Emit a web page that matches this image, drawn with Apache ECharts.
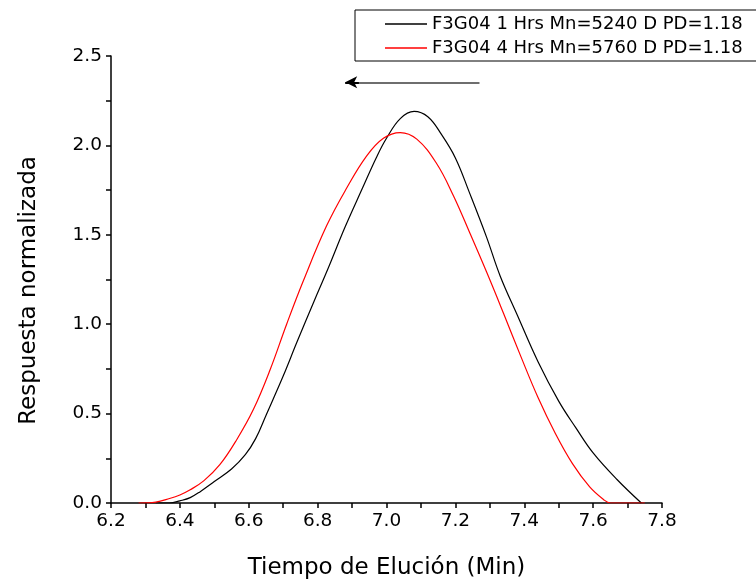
<!DOCTYPE html>
<html><head><meta charset="utf-8">
<script src="https://cdn.jsdelivr.net/npm/echarts@6/dist/echarts.min.js"></script>
<style>html,body{margin:0;padding:0;background:#fff}#c{width:756px;height:581px}</style>
</head><body><div id="c"></div>
<script>
const seriesNames = ['F3G04 1 Hrs Mn=5240 D PD=1.18', 'F3G04 4 Hrs Mn=5760 D PD=1.18'];
const xTicks = [6.2, 6.4, 6.6, 6.8, 7.0, 7.2, 7.4, 7.6, 7.8];
const yTicks = [0.0, 0.5, 1.0, 1.5, 2.0, 2.5];
const blackX = [6.33, 6.37, 6.40, 6.43, 6.46, 6.50, 6.55, 6.59, 6.62, 6.65, 6.70, 6.74, 6.79, 6.83, 6.88, 6.93, 6.97, 7.00, 7.04, 7.08, 7.12, 7.16, 7.20, 7.24, 7.29, 7.33, 7.38, 7.44, 7.50, 7.55, 7.60, 7.67, 7.74];
const blackY = [0, 0, 0.012, 0.03, 0.065, 0.12, 0.19, 0.27, 0.36, 0.49, 0.71, 0.90, 1.13, 1.31, 1.545, 1.76, 1.93, 2.04, 2.15, 2.19, 2.16, 2.06, 1.93, 1.74, 1.49, 1.27, 1.05, 0.79, 0.57, 0.42, 0.28, 0.13, 0];
const redX = [6.28, 6.33, 6.37, 6.40, 6.43, 6.47, 6.516, 6.565, 6.613, 6.662, 6.71, 6.758, 6.826, 6.884, 6.942, 6.991, 7.04, 7.088, 7.145, 7.194, 7.242, 7.291, 7.34, 7.39, 7.44, 7.49, 7.54, 7.59, 7.63, 7.65, 7.75];
const redY = [0, 0.005, 0.025, 0.045, 0.074, 0.125, 0.214, 0.354, 0.521, 0.745, 1.0, 1.24, 1.55, 1.76, 1.94, 2.04, 2.072, 2.035, 1.90, 1.72, 1.51, 1.29, 1.06, 0.82, 0.59, 0.39, 0.22, 0.09, 0.02, 0, 0];
const arrowFrom = [7.27, 2.353];
const arrowMid = [6.92, 2.353];
const arrowTo = [6.88, 2.353];

const pair = (xs, ys) => xs.map((x, i) => [x, ys[i]]);
const FONT = 'DejaVu Sans';
const chart = echarts.init(document.getElementById('c'), null, {renderer: 'canvas'});
chart.setOption({
  animation: false,
  backgroundColor: '#fff',
  textStyle: {fontFamily: FONT, color: '#000'},
  grid: {left: 111, right: 94, top: 56, bottom: 78, containLabel: false, outerBoundsMode: 'none'},
  legend: {
    left: 355, top: 10, orient: 'vertical',
    padding: [5, 70, 4, 30], itemGap: 6,
    itemWidth: 42, itemHeight: 1.5, icon: 'rect',
    borderColor: '#000', borderWidth: 1, borderRadius: 0,
    textStyle: {fontFamily: FONT, fontSize: 18, color: '#000', lineHeight: 18},
    data: seriesNames
  },
  xAxis: {
    type: 'value', min: xTicks[0], max: xTicks[xTicks.length - 1], interval: 0.2,
    name: 'Tiempo de Elución (Min)', nameLocation: 'middle', nameGap: 54,
    nameTextStyle: {fontFamily: FONT, fontSize: 23, color: '#000'},
    axisLine: {show: true, lineStyle: {color: '#000', width: 1.5}},
    axisTick: {show: true, inside: false, length: 5, lineStyle: {color: '#000', width: 1.5}},
    minorTick: {show: true, splitNumber: 2, length: 5, lineStyle: {color: '#000', width: 1.5}},
    axisLabel: {fontFamily: FONT, fontSize: 18.5, color: '#000', margin: 9, formatter: v => v.toFixed(1)},
    splitLine: {show: false}
  },
  yAxis: {
    type: 'value', min: yTicks[0], max: yTicks[yTicks.length - 1], interval: 0.5,
    name: 'Respuesta normalizada', nameLocation: 'middle', nameGap: 70,
    nameTextStyle: {fontFamily: FONT, fontSize: 23, color: '#000', padding: [0, 22, 0, 0]},
    axisLine: {show: true, lineStyle: {color: '#000', width: 1.5}},
    axisTick: {show: true, inside: false, length: 5, lineStyle: {color: '#000', width: 1.5}},
    minorTick: {show: true, splitNumber: 2, length: 5, lineStyle: {color: '#000', width: 1.5}},
    axisLabel: {fontFamily: FONT, fontSize: 18.5, color: '#000', margin: 9, formatter: v => v.toFixed(1)},
    splitLine: {show: false}
  },
  series: [
    {
      name: seriesNames[0], type: 'line', data: pair(blackX, blackY),
      smooth: 0.4, symbol: 'none', lineStyle: {color: '#000', width: 1.2}, itemStyle: {color: '#000'},
      markLine: {
        silent: true, symbol: ['none', 'none'],
        label: {show: false},
        lineStyle: {color: '#6e6e6e', width: 2, type: 'solid'},
        data: [[{coord: arrowFrom}, {coord: arrowMid}]]
      }
    },
    {
      name: seriesNames[1], type: 'line', data: pair(redX, redY),
      smooth: 0.4, symbol: 'none', lineStyle: {color: '#ff0000', width: 1.2}, itemStyle: {color: '#ff0000'},
      markLine: {
        silent: true, symbol: ['none', 'arrow'], symbolSize: [9, 12],
        label: {show: false},
        lineStyle: {color: '#000', width: 2, type: 'solid'},
        data: [[{coord: arrowMid}, {coord: arrowTo}]]
      }
    }
  ]
});
</script></body></html>
